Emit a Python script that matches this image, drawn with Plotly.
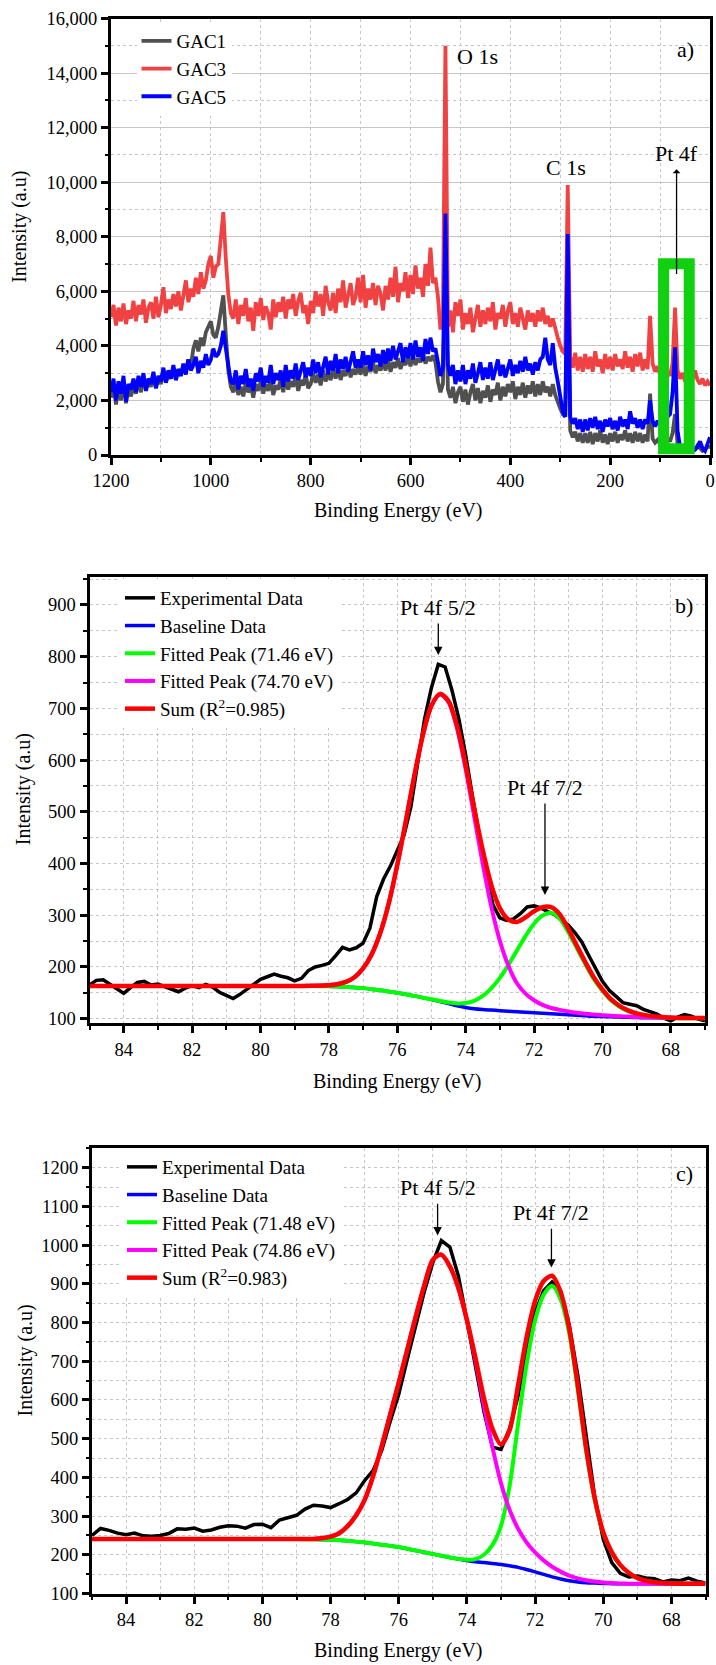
import plotly.graph_objects as go

FONT = "Liberation Serif"

# ---------------- Panel a) survey spectra ----------------
survey_energy = list(range(1200, -1, -5))  # binding energy grid (eV)
gac1 = [
    2100, 2600, 1850, 2500, 2000, 2700, 1900, 2450, 2150, 2550,
    2250, 2750, 2300, 2850, 2400, 2700, 2500, 2950, 2450, 2800,
    2600, 3100, 2650, 3000, 2800, 3200, 2750, 3150, 2900, 3300,
    3100, 3500, 3300, 3900, 4200, 3800, 4300, 4000, 4500, 4700,
    4900, 4400, 4300, 4700, 5200, 5850, 4400, 3100, 2500, 2300,
    2700, 2200, 2500, 2150, 2650, 2300, 2550, 2100, 2600, 2350,
    2700, 2250, 2600, 2350, 2750, 2200, 2550, 2400, 2800, 2300,
    2850, 2400, 2700, 2500, 2900, 2350, 2750, 2550, 2950, 2450,
    2600, 3000, 2650, 2950, 2550, 3100, 2700, 3000, 2750, 3150,
    2800, 3200, 2750, 3100, 2900, 3300, 2850, 3150, 2950, 3250,
    2950, 3350, 2900, 3250, 3050, 3400, 3000, 3300, 3100, 3450,
    3100, 3500, 3050, 3400, 3200, 3550, 3150, 3450, 3300, 3600,
    3250, 3650, 3300, 3550, 3400, 3700, 3350, 3600, 3450, 3650,
    3400, 2700, 2300, 2600, 7000, 2400, 2100, 2500, 1900, 2300,
    2500, 1950, 2400, 1850, 2300, 2600, 2000, 2450, 1900, 2350,
    2100, 2550, 1950, 2400, 2200, 2650, 2000, 2500, 2150, 2600,
    2300, 2700, 2050, 2500, 2200, 2650, 2100, 2550, 2250, 2700,
    2150, 2600, 2200, 2700, 2300, 2500, 2150, 2600, 2200, 1900,
    1700, 1500, 1400, 6500, 900, 650, 850, 500, 800, 450,
    800, 450, 850, 400, 800, 500, 900, 450, 750, 400,
    800, 500, 850, 450, 750, 550, 900, 500, 800, 450,
    850, 500, 800, 450, 750, 500, 2250, 600, 450, 550,
    400, 550, 450, 600, 500, 800, 1500, 400, 250, 300,
    200, 300, 150, 250, 200, 350, 250, 150, 200, 300,
    300,
]
gac3 = [
    5050, 5500, 4750, 5400, 4900, 5550, 4800, 5300, 5000, 5650,
    4900, 5500, 5150, 5700, 4850, 5400, 5600, 5000, 5800, 5050,
    5500, 6150, 5200, 5700, 5350, 5900, 5450, 6000, 5300, 5800,
    6400, 5600, 6100, 5800, 6500, 5900, 6700, 6100, 6400, 7000,
    7300, 6500, 6900, 7000, 8000, 8900, 7200, 5900, 5200, 5000,
    5700, 4800, 5500, 5100, 5750, 4900, 5400, 4550, 5600, 5100,
    5750, 4950, 5450, 5200, 4600, 5700, 5050, 5600, 5250, 5800,
    5000, 5700, 5350, 5900, 5100, 5650, 5950, 5200, 5500, 4800,
    5650, 5200, 6000, 5450, 5900, 5100, 6200, 5600, 5300, 5950,
    5200, 6100, 5600, 6400, 5400, 5900, 6300, 5500, 5800, 6500,
    5600, 6600, 5400, 6100, 5700, 6300, 5500, 6200, 5900, 5300,
    6200, 5700, 6500, 5800, 6900, 5600, 6300, 6000, 6700, 5750,
    6600, 5900, 6950, 6100, 6500, 5800, 7000, 6200, 7600, 6300,
    6500, 5800, 4600, 5200, 15000, 4700, 5300, 4500, 5600, 5100,
    5700, 4600, 5200, 4800, 5400, 4500, 5100, 5500, 4700, 5300,
    4800, 5400, 4900, 5600, 4600, 5200, 5000, 5500, 4700, 5300,
    5600, 4800, 5200, 4700, 5400, 5000, 4600, 5300, 4900, 5200,
    4700, 5300, 4900, 5400, 4800, 5100, 4700, 5000, 4600, 4300,
    4000, 3800, 3700, 9900, 3600, 3200, 3750, 3100, 3600, 3050,
    3700, 3150, 3600, 3050, 3800, 3250, 3500, 3000, 3700, 3150,
    3600, 3100, 3700, 3250, 3500, 3150, 3800, 3200, 3600, 3050,
    3700, 3250, 3750, 3100, 3500, 3150, 5100, 3350, 3050, 3250,
    2950, 3150, 2850, 3050, 2900, 3350, 5400, 3100, 2800, 3000,
    2700, 2900, 2600, 2800, 3100, 2750, 2600, 2800, 2550, 2700,
    2550,
]
gac5 = [
    2300, 2800, 2000, 2700, 2250, 2900, 1950, 2600, 2400, 2800,
    2300, 2900, 2500, 3000, 2350, 2800, 2600, 3050, 2450, 2900,
    2700, 3200, 2650, 3100, 2800, 3300, 2750, 3150, 2900, 3350,
    2950, 3500, 3100, 3300, 3600, 3000, 3450, 3200, 3700, 3300,
    3500, 3900, 3600, 3700, 4000, 4550, 3900, 3200, 2700, 2600,
    3100, 2400, 2900, 2600, 3150, 2500, 2800, 2350, 3000, 2700,
    3200, 2500, 2900, 2650, 3300, 2600, 3000, 2750, 3100, 2500,
    3300, 2700, 3100, 2800, 3350, 2750, 3050, 3400, 2850, 3200,
    2900, 3500, 3000, 3400, 2850, 3300, 3600, 2950, 3450, 3100,
    3700, 3000, 3500, 3150, 3600, 3050, 3400, 3800, 3200, 3500,
    3200, 3800, 3300, 3650, 3100, 3900, 3400, 3700, 3250, 3850,
    3350, 3900, 3450, 4000, 3500, 3800, 4100, 3400, 3950, 3550,
    4100, 3500, 4200, 3600, 3950, 3450, 4250, 3700, 4300, 3800,
    3900, 3400, 2900, 3200, 8850, 3300, 2900, 3300, 2600, 3100,
    2700, 3300, 2600, 3100, 2800, 3350, 2650, 3000, 3400, 2750,
    3200, 2800, 3400, 2750, 3150, 3500, 2900, 3300, 2850, 3250,
    3500, 2900, 3300, 3000, 3450, 3050, 3600, 3100, 3350, 2950,
    3400, 3100, 3500, 3600, 4300, 3500, 3300, 4100, 3200, 2700,
    2200, 1600, 1400, 8100, 1400, 1150, 1350, 950, 1300, 850,
    1300, 900, 1350, 1000, 1400, 950, 1250, 850, 1300, 1050,
    1350, 950, 1250, 900, 1400, 1050, 1300, 950, 1600, 1150,
    1350, 1000, 1300, 950, 1300, 1150, 2000, 1250, 1050, 1250,
    1100, 1300, 1150, 1400, 1500, 2300, 3950, 900, 300, 250,
    350, 200, 250, 150, 200, 300, 500, 250, 150, 450,
    650,
]

# ---------------- Panel b) Pt 4f, first sample ----------------
b_exp_energy = [
    85.0, 84.8, 84.6, 84.4, 84.2, 84.0, 83.8, 83.6, 83.4, 83.2, 83.0, 82.8, 82.6, 82.4, 82.2,
    82.0, 81.8, 81.6, 81.4, 81.2, 81.0, 80.8, 80.6, 80.4, 80.2, 80.0, 79.8, 79.6, 79.4, 79.2,
    79.0, 78.8, 78.6, 78.4, 78.2, 78.0, 77.8, 77.6, 77.4, 77.2, 77.0, 76.8, 76.6, 76.4, 76.2,
    76.0, 75.8, 75.6, 75.4, 75.2, 75.0, 74.8, 74.6, 74.4, 74.2, 74.0, 73.8, 73.6, 73.4, 73.2,
    73.0, 72.8, 72.6, 72.4, 72.2, 72.0, 71.8, 71.6, 71.4, 71.2, 71.0, 70.8, 70.6, 70.4, 70.2,
    70.0, 69.8, 69.6, 69.4, 69.2, 69.0, 68.8, 68.6, 68.4, 68.2, 68.0, 67.8, 67.6, 67.4, 67.2, 67.0,
]
b_exp = [
    165, 174, 175, 166, 157, 149, 160, 170, 172, 165, 167, 162, 157, 152, 159,
    164, 160, 166, 161, 151, 145, 139, 147, 157, 167, 176, 181, 186, 182, 179,
    173, 178, 193, 200, 203, 207, 222, 238, 233, 237, 246, 275, 336, 370, 395,
    425, 455, 510, 590, 680, 740, 785, 780, 735, 680, 610, 530, 450, 380, 320,
    295, 290, 293, 303, 316, 318, 314, 307, 301, 291, 281, 266, 248, 222, 196,
    172, 155, 142, 131, 128, 125, 118, 113, 109, 101, 96, 103, 108, 105, 99, 96,
]
fit_energy = [
    85, 84, 83, 82, 81, 80, 79, 78.5, 78, 77.75, 77.5, 77.25, 77, 76.75, 76.5, 76.25,
    76, 75.75, 75.5, 75.25, 75, 74.75, 74.5, 74.25, 74, 73.75, 73.5, 73.25, 73, 72.75,
    72.5, 72.25, 72, 71.75, 71.5, 71.25, 71, 70.75, 70.5, 70.25, 70, 69.75, 69.5, 69.25,
    69, 68.75, 68.5, 68.25, 68, 67.75, 67.5, 67.25, 67,
]
b_baseline = [
    163, 163, 163, 163, 163, 163, 163, 163, 162.5, 162, 161, 160, 159, 157, 155, 152.5,
    150, 147, 144, 140.5, 137, 133, 129, 125, 121.5, 119, 117.5, 116.5, 115.5, 114.5,
    113.5, 112.5, 111.5, 110.5, 109.5, 108.5, 107.5, 106.5, 105.5, 104.5, 104, 103.5, 103, 102.5,
    102, 101.8, 101.6, 101.4, 101.2, 101, 101, 101, 101,
]
b_peak_7146 = [
    163, 163, 163, 163, 163, 163, 163, 163, 162.5, 162, 161, 160, 159, 157, 155, 152.5,
    150, 147, 144, 140.5, 137.4, 134, 131.2, 129.5, 130.1, 134.5, 143.9, 158.7, 178.8, 203.8,
    231.8, 259.7, 283.6, 299.5, 304.5, 293.5, 267.5, 236.5, 205.5, 176.5, 154, 135.5, 123, 114.5,
    109, 105.8, 103.6, 102.4, 101.7, 101, 101, 101, 101,
]
b_peak_7470 = [
    163, 163, 163, 163, 163, 163, 163, 163.5, 164.5, 166.6, 171, 180, 197, 224, 265, 322.5,
    397, 482, 570, 648.5, 705, 727, 712, 661, 582.5, 491, 399.5, 316.5, 250.5, 202.5,
    168.5, 148.5, 135.5, 126.5, 120.5, 117, 114, 111.5, 109.5, 107.8, 106.7, 105.7, 104.8, 104,
    103.2, 102.8, 102.4, 102, 101.7, 101.4, 101.3, 101.2, 101.2,
]
b_sum = [
    163, 163, 163, 163, 163, 163, 163, 163.5, 164.5, 166.6, 171, 180, 197, 224, 265, 322.5,
    397, 482, 570, 648.5, 705.4, 728, 714.2, 665.5, 591.1, 506.5, 425.9, 358.7, 313.8, 291.8,
    286.8, 295.7, 307.6, 315.5, 315.5, 302, 274, 241.5, 209.5, 179.8, 156.7, 137.7, 124.8, 116,
    110.2, 106.8, 104.4, 103, 102.2, 101.4, 101.3, 101.2, 101.2,
]

# ---------------- Panel c) Pt 4f, second sample ----------------
c_exp_energy = [
    85.0, 84.75, 84.5, 84.25, 84.0, 83.75, 83.5, 83.25, 83.0, 82.75, 82.5, 82.25, 82.0,
    81.75, 81.5, 81.25, 81.0, 80.75, 80.5, 80.25, 80.0, 79.75, 79.5, 79.25, 79.0, 78.75,
    78.5, 78.25, 78.0, 77.75, 77.5, 77.25, 77.0, 76.75, 76.5, 76.25, 76.0, 75.75, 75.5,
    75.25, 75.0, 74.75, 74.5, 74.25, 74.0, 73.75, 73.5, 73.25, 73.0, 72.75, 72.5, 72.25,
    72.0, 71.75, 71.5, 71.25, 71.0, 70.75, 70.5, 70.25, 70.0, 69.75, 69.5, 69.25, 69.0,
    68.75, 68.5, 68.25, 68.0, 67.75, 67.5, 67.25, 67.0,
]
c_exp = [
    250, 268, 263, 256, 252, 256, 249, 248, 250, 255, 267, 266, 269,
    261, 264, 271, 275, 274, 269, 278, 279, 270, 290, 296, 302, 318,
    328, 326, 322, 332, 343, 360, 392, 418, 470, 545, 615, 705, 790,
    880, 955, 1012, 995, 920, 805, 690, 570, 478, 472, 525, 610, 730,
    825, 882, 905, 882, 795, 665, 510, 350, 240, 180, 152, 143, 145,
    140, 138, 130, 135, 133, 140, 132, 127,
]
c_baseline = [
    241, 241, 241, 241, 241, 241, 241, 240, 239, 237.5, 236, 234, 232, 229, 226, 223,
    220, 215.5, 211, 206.5, 202, 197.5, 193, 189, 185, 182, 180, 177.5, 175, 171.5,
    167.5, 162, 156, 149.5, 143, 137.5, 133, 130, 128, 127, 126, 125.5, 125, 125,
    125, 125, 125, 125, 125, 125, 125, 125, 125,
]
c_peak_7148 = [
    241, 241, 241, 241, 241, 241, 241, 240, 239, 237.5, 236, 234, 232, 229, 226, 223,
    220, 215.5, 211, 206.5, 202, 197.5, 193, 189.5, 187, 189, 200, 225.5, 275, 376.5,
    537.5, 692, 806, 871.5, 895, 859.5, 773, 630, 468, 342, 256, 205.5, 173, 153,
    140, 133, 129, 127, 126, 125, 125, 125, 125,
]
c_peak_7486 = [
    241, 241, 241, 241, 241, 241, 241, 241, 247, 255.5, 274, 302, 342, 404, 481, 563,
    645, 730.5, 816, 896.5, 962, 975.5, 945, 889, 805, 702, 585, 477.5, 385, 316.5,
    267.5, 232, 206, 185.5, 169, 156.5, 146, 139, 134, 131, 128.5, 127, 126, 125.5,
    125, 125, 125, 125, 125, 125, 125, 125, 125,
]
c_sum = [
    241, 241, 241, 241, 241, 241, 241, 241, 247, 255.5, 274, 302, 342, 404, 481, 563,
    645, 730.5, 816, 896.5, 962, 975.5, 945, 889.5, 807, 709, 605, 525.5, 485, 521.5,
    637.5, 762, 856, 907.5, 921, 878.5, 786, 639, 474, 346, 258.5, 207, 174, 153.5,
    140, 133, 129, 127, 126, 125, 125, 125, 125,
]

# ---------------- Layout geometry (pixels of the 716 x 1665 page) ----------------
W, H = 716, 1665
def fx(px):
    return px / W
def fy(py):
    return 1 - py / H

GRID = "#c6c6c6"
fig = go.Figure()

# panel a traces
for name, ys, col in [("GAC1", gac1, "#505050"), ("GAC3", gac3, "#f04242"), ("GAC5", gac5, "#0000ff")]:
    fig.add_trace(go.Scatter(x=survey_energy, y=ys, mode="lines", name=name,
                             line=dict(color=col, width=3.8), xaxis="x", yaxis="y", legend="legend"))

# panel b traces
fig.add_trace(go.Scatter(x=b_exp_energy, y=b_exp, mode="lines", name="Experimental Data",
                         line=dict(color="black", width=3.5), xaxis="x2", yaxis="y2", legend="legend2"))
for name, ys, col, w in [("Baseline Data", b_baseline, "#0000ff", 3.5),
                         ("Fitted Peak (71.46 eV)", b_peak_7146, "#00ff00", 4),
                         ("Fitted Peak (74.70 eV)", b_peak_7470, "#ff00ff", 4),
                         ("Sum (R<sup>2</sup>=0.985)", b_sum, "#ff0000", 4.5)]:
    fig.add_trace(go.Scatter(x=fit_energy, y=ys, mode="lines", name=name,
                             line=dict(color=col, width=w, shape="spline", smoothing=0.8),
                             xaxis="x2", yaxis="y2", legend="legend2"))

# panel c traces
fig.add_trace(go.Scatter(x=c_exp_energy, y=c_exp, mode="lines", name="Experimental Data",
                         line=dict(color="black", width=3.5), xaxis="x3", yaxis="y3", legend="legend3"))
for name, ys, col, w in [("Baseline Data", c_baseline, "#0000ff", 3.5),
                         ("Fitted Peak (71.48 eV)", c_peak_7148, "#00ff00", 4),
                         ("Fitted Peak (74.86 eV)", c_peak_7486, "#ff00ff", 4),
                         ("Sum (R<sup>2</sup>=0.983)", c_sum, "#ff0000", 4.5)]:
    fig.add_trace(go.Scatter(x=fit_energy, y=ys, mode="lines", name=name,
                             line=dict(color=col, width=w, shape="spline", smoothing=0.8),
                             xaxis="x3", yaxis="y3", legend="legend3"))

tickfont = dict(family=FONT, size=18.5, color="black")
titlefont = dict(family=FONT, size=20, color="black")

def axis(domain, rng, dtick, minor_dtick, anchor, major_grid_dash="dot", fmt=None):
    d = dict(domain=domain, range=rng, dtick=dtick, tick0=0, anchor=anchor, automargin=False,
             showline=True, linecolor="black", linewidth=3, mirror=True,
             ticks="outside", ticklen=7, tickwidth=2.5, tickcolor="black",
             tickfont=tickfont, ticklabelstandoff=0, ticklabeloverflow="allow",
             showgrid=True, gridcolor=GRID, gridwidth=1.2 if major_grid_dash == "solid" else 1,
             griddash=major_grid_dash, zeroline=False,
             minor=dict(dtick=minor_dtick, tick0=0, ticks="outside", ticklen=3.5, tickwidth=2,
                        tickcolor="black", showgrid=True, gridcolor=GRID, griddash="dot", gridwidth=1))
    if fmt:
        d["tickformat"] = fmt
    return d

layout = dict(
    width=W, height=H, margin=dict(l=0, r=0, t=0, b=0, autoexpand=False),
    paper_bgcolor="white", plot_bgcolor="white",
    font=dict(family=FONT, color="black"),
    xaxis=axis([fx(111), fx(710)], [1200, 0], 200, 100, "y"),
    yaxis=axis([fy(455), fy(18.5)], [0, 16000], 2000, 1000, "x", "solid", ",d"),
    xaxis2=axis([fx(89.5), fx(705)], [85, 67], 2, 1, "y2"),
    yaxis2=axis([fy(1023.3), fy(577)], [91, 954], 100, 50, "x2"),
    xaxis3=axis([fx(92), fx(705.5)], [85, 67], 2, 1, "y3"),
    yaxis3=axis([fy(1593.5), fy(1148)], [100, 1251], 100, 50, "x3"),
    showlegend=True,
)
legend_common = dict(bgcolor="white", borderwidth=0, font=dict(family=FONT, size=19, color="black"),
                     xanchor="left", yanchor="top", tracegroupgap=0, itemwidth=30,
                     traceorder="normal")
layout["legend"] = dict(legend_common, x=fx(136.5), y=fy(22))
layout["legend2"] = dict(legend_common, x=fx(120), y=fy(579))
layout["legend3"] = dict(legend_common, x=fx(122), y=fy(1148))
fig.update_layout(**layout)

ann_font = dict(family=FONT, size=22, color="black")
def label(text, x, y, ax):
    n = ax[1:] if len(ax) > 1 else ""
    return dict(text=text, x=x, y=y, xref="x" + n, yref="y" + n, showarrow=False, font=ann_font,
                xanchor="center", yanchor="middle")
def arrow_label(text, x, y_text, y_point, ax, side="end"):
    # label with an arrow; the arrow runs between the label and the point (x, y_point)
    n = ax[1:] if len(ax) > 1 else ""
    return dict(text=text, x=x, y=y_point, ax=x, ay=y_text, xref="x" + n, yref="y" + n,
                axref="x" + n, ayref="y" + n, showarrow=True, arrowhead=2, arrowsize=1.3,
                arrowwidth=1.3, arrowcolor="black", arrowside=side, borderpad=3,
                font=ann_font, standoff=0, startstandoff=0)
def axis_title(text, px, py, vertical=False):
    return dict(text=text, x=fx(px), y=fy(py), xref="paper", yref="paper", showarrow=False,
                font=titlefont, xanchor="center", yanchor="middle", textangle=-90 if vertical else 0)

annotations = [
    label("O 1s", 465, 14600, "x"),
    label("C 1s", 289, 10546, "x"),
    arrow_label("Pt 4f", 67, 11060, 6635, "x", side="start"),
    label("a)", 49, 14870, "x"),
    arrow_label("Pt 4f 5/2", 74.8, 895, 803, "x2"),
    arrow_label("Pt 4f 7/2", 71.68, 547, 339, "x2"),
    label("b)", 67.6, 898, "x2"),
    arrow_label("Pt 4f 5/2", 74.86, 1148, 1025, "x3"),
    arrow_label("Pt 4f 7/2", 71.52, 1084, 942, "x3"),
    label("c)", 67.62, 1184, "x3"),
    axis_title("Binding Energy (eV)", 398, 510.7),
    axis_title("Binding Energy (eV)", 397.3, 1081.4),
    axis_title("Binding Energy (eV)", 398.2, 1650.5),
    axis_title("Intensity (a.u)", 19.2, 226.6, vertical=True),
    axis_title("Intensity (a.u)", 23.7, 789.5, vertical=True),
    axis_title("Intensity (a.u)", 25.1, 1360.4, vertical=True),
]
fig.update_layout(annotations=annotations)

# green highlight box around the Pt 4f region in panel a
fig.add_shape(type="rect", xref="x", yref="y", x0=93, x1=41.6, y0=230, y1=7008,
              line=dict(color="#10d010", width=11), fillcolor="rgba(0,0,0,0)", layer="above")

# the page body gets no default margin, so the figure fills the window exactly
fig.write_html("out.html", config={"displayModeBar": False},
               post_script="document.body.style.margin='0px';")
